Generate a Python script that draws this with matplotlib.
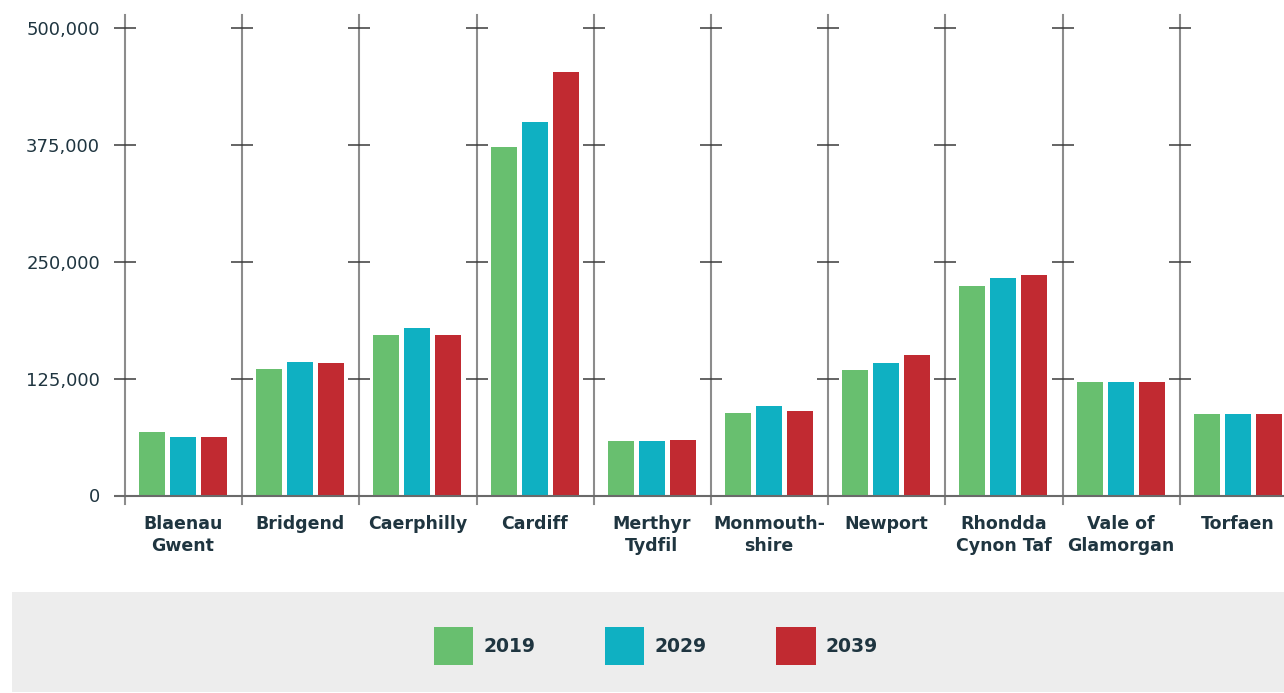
import matplotlib
matplotlib.use("Agg")
import matplotlib.pyplot as plt
from matplotlib.patches import Rectangle
import numpy as np

categories = ["Blaenau\nGwent", "Bridgend", "Caerphilly", "Cardiff", "Merthyr\nTydfil",
              "Monmouth-\nshire", "Newport", "Rhondda\nCynon Taf", "Vale of\nGlamorgan", "Torfaen"]
series_names = ["2019", "2029", "2039"]
values_2019 = [68000, 135000, 172000, 373000, 58000, 88000, 134000, 224000, 121000, 87000]
values_2029 = [62000, 143000, 179000, 399000, 58000, 96000, 142000, 232000, 121000, 87000]
values_2039 = [62000, 142000, 172000, 453000, 59000, 90000, 150000, 236000, 121000, 87000]
y_ticks = [0, 125000, 250000, 375000, 500000]
y_tick_labels = ["0", "125,000", "250,000", "375,000", "500,000"]

colors = ["#68BF6F", "#0FB0C2", "#C12A31"]
text_color = "#1F3540"
FONT = ["DejaVu Sans"]
plt.rcParams["font.family"] = FONT

W, H = 1284, 693
fig = plt.figure(figsize=(W / 100, H / 100), dpi=100)

ax_left, ax_right = 125, 125 + 10 * 117.2
ax_top, ax_bottom = 27.7, 495.5
ax = fig.add_axes([ax_left / W, 1 - ax_bottom / H, (ax_right - ax_left) / W, (ax_bottom - ax_top) / H])

n = len(categories)
x = np.arange(n) + 0.495
offset = 0.265
width = 0.222
series = [values_2019, values_2029, values_2039]
bars = []
for k, (vals, c) in enumerate(zip(series, colors)):
    b = ax.bar(x + (k - 1) * offset, vals, width=width, color=c, label=series_names[k], zorder=2)
    bars.append(b)

ax.set_xlim(0, n)
ax.set_ylim(0, 500000)
for s in ax.spines.values():
    s.set_visible(False)

# vertical separators
for i in range(n):
    ax.axvline(i, ymin=-0.018, ymax=1.027, color="#8C8C8C", lw=1.5, clip_on=False, zorder=1)
# tick crosses
tk = 11 / 117.2
for i in range(n):
    for yv in y_ticks[1:]:
        ax.hlines(yv, i - tk, i + tk, color="#3A3A3A", lw=1.1, clip_on=False, zorder=3)
# baseline
ax.hlines(0, -tk, n, color="#6A6A6A", lw=1.5, clip_on=False, zorder=3)

ax.set_yticks(y_ticks)
ax.set_yticklabels(y_tick_labels, fontsize=13, color=text_color)
ax.tick_params(axis="y", length=0, pad=18)
ax.set_xticks(x)
ax.set_xticklabels(categories, fontsize=12.5, fontweight="bold", color=text_color, linespacing=1.3)
ax.tick_params(axis="x", length=0, pad=14)

# legend background box
fig.patches.append(Rectangle((12 / W, 1 - 692 / H), (W - 12) / W, 100 / H,
                             transform=fig.transFigure, facecolor="#EDEDED", edgecolor="none", zorder=0))
leg = fig.legend(handles=bars, labels=series_names, loc="center", bbox_to_anchor=(656 / W, 1 - 646 / H),
                 ncol=3, frameon=False, fontsize=13.5, handlelength=2.1, handleheight=2.7,
                 handletextpad=0.55, columnspacing=3.7)
for t in leg.get_texts():
    t.set_fontweight("bold")
    t.set_color(text_color)

fig.savefig("out.png", dpi=100)
